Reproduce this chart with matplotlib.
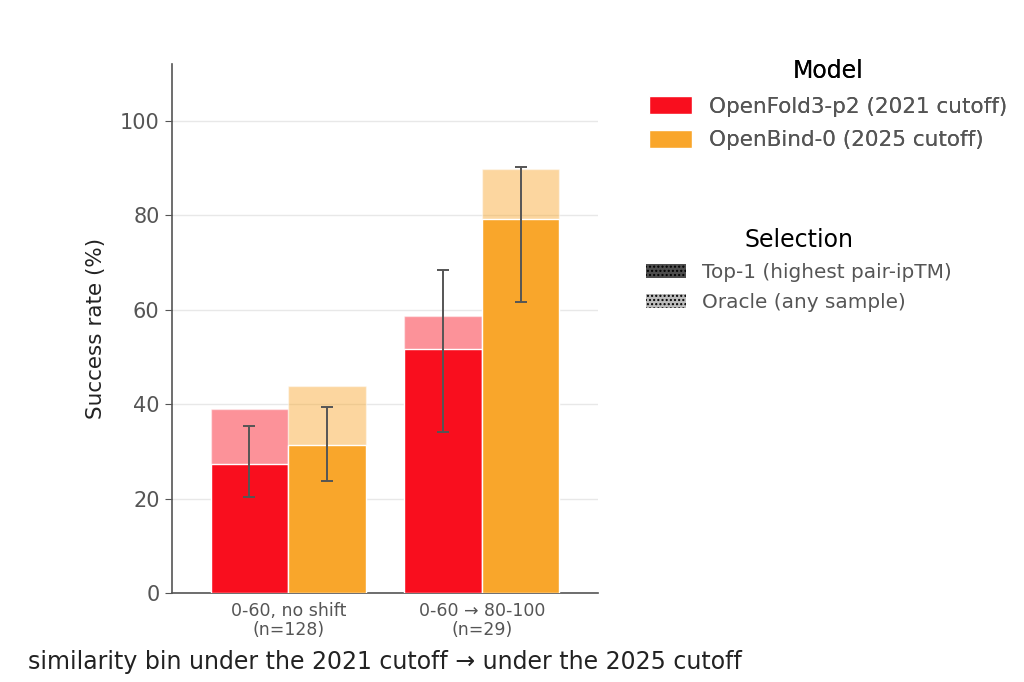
import numpy as np
import matplotlib
matplotlib.use("Agg")
import matplotlib.pyplot as plt
from matplotlib.patches import Patch

# data (success rates in %)
bins = ["0-60, no shift\n(n=128)", "0-60 \u2192 80-100\n(n=29)"]
models = ["OpenFold3-p2 (2021 cutoff)", "OpenBind-0 (2025 cutoff)"]
colors = ["#F90E1E", "#F9A62B"]
top1 = [[27.3, 51.7], [31.3, 79.3]]
oracle = [[39.1, 58.6], [43.8, 89.7]]
ci_low = [[20.3, 34.2], [23.7, 61.7]]
ci_high = [[35.5, 68.5], [39.5, 90.3]]

grey = "#555555"
fig = plt.figure(figsize=(10.24, 6.82), dpi=100)
ax = fig.add_axes([0.168, 0.130, 0.416, 0.776])

x = np.arange(len(bins))
w = 0.4
for i, m in enumerate(models):
    pos = x + (i - 0.5) * w
    ax.bar(pos, oracle[i], w, color=colors[i], alpha=0.45, edgecolor="white", linewidth=1, zorder=2)
    ax.bar(pos, top1[i], w, color=colors[i], edgecolor="white", linewidth=1, zorder=3)
    t = np.array(top1[i])
    err = [t - np.array(ci_low[i]), np.array(ci_high[i]) - t]
    ax.errorbar(pos, t, yerr=err, fmt="none", ecolor=grey, elinewidth=1.4, capsize=4, capthick=1.4, zorder=4)

ax.set_xlim(-0.6, 1.6)
ax.set_ylim(0, 112)
ax.set_yticks([0, 20, 40, 60, 80, 100])
ax.set_xticks(x)
ax.set_xticklabels(bins, fontsize=12.5, color=grey, linespacing=1.1)
ax.tick_params(axis="y", labelsize=15, labelcolor=grey, color=grey, length=5, pad=4)
ax.tick_params(axis="x", length=0, pad=6)
ax.grid(axis="y", color="#e8e8e8", linewidth=1, zorder=0)
ax.set_axisbelow(True)
for s in ["top", "right"]:
    ax.spines[s].set_visible(False)
for s in ["left", "bottom"]:
    ax.spines[s].set_color(grey)
    ax.spines[s].set_linewidth(1.2)

ax.set_ylabel("Success rate (%)", fontsize=15.5, color="#222222", labelpad=10)
ax.set_xlabel("similarity bin under the 2021 cutoff \u2192 under the 2025 cutoff", fontsize=17,
              color="#222222", labelpad=8)

h1 = [Patch(facecolor=c, edgecolor="white") for c in colors]
leg1 = fig.legend(h1, models, loc="upper left", bbox_to_anchor=(0.625, 0.926), frameon=False,
                  title="Model", fontsize=15.5, title_fontsize=17, handlelength=2, handleheight=0.9,
                  labelspacing=0.62, labelcolor=grey, borderaxespad=0)
h2 = [Patch(facecolor="#444444", alpha=0.95, hatch="...."),
      Patch(facecolor="#444444", alpha=0.35, hatch="....")]
leg2 = fig.legend(h2, ["Top-1 (highest pair-ipTM)", "Oracle (any sample)"], loc="upper left",
                  bbox_to_anchor=(0.623, 0.678), frameon=False, title="Selection", fontsize=14.4,
                  title_fontsize=17, handlelength=2, labelspacing=0.55, labelcolor=grey,
                  borderaxespad=0)
fig.add_artist(leg1)

fig.savefig("out.png", dpi=100)
